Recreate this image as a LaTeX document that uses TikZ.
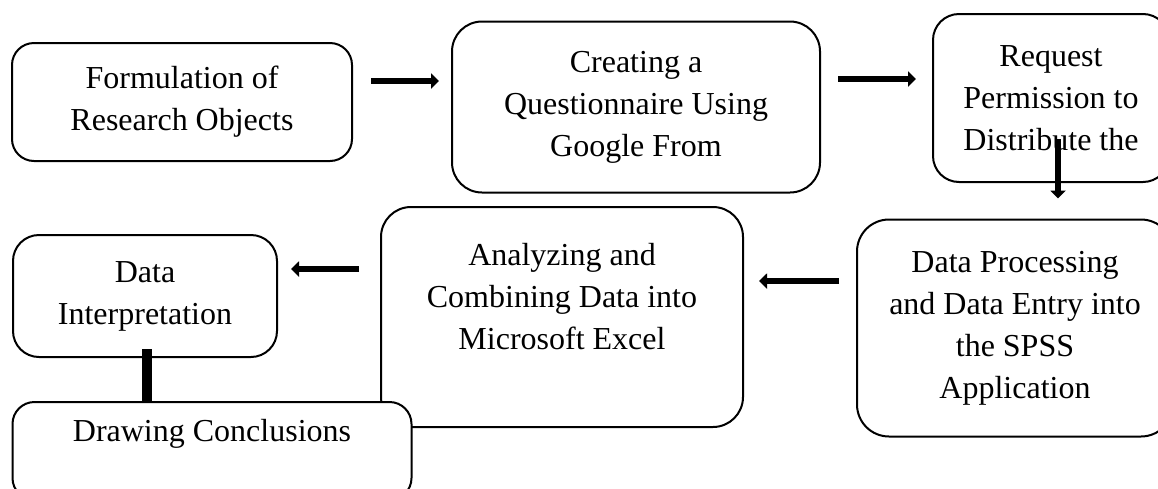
\documentclass[tikz,border=0pt]{standalone}
\usepackage{fontspec}
\setmainfont{Liberation Serif}
\usetikzlibrary{arrows.meta}
\newcommand{\boxfont}{\fontsize{32}{42}\selectfont}

\begin{document}
\begin{tikzpicture}[x=1pt, y=-1pt,
    stage/.style={draw=black, line width=2pt, fill=white, rounded corners=26pt,
                  align=center, inner sep=0pt, font=\boxfont},
    flow/.style={line width=6pt, -{Triangle[length=8pt, width=15pt]}}]

    \useasboundingbox (0,0) rectangle (1158,488);
    \clip (0,0) rectangle (1158,488);

    % first row
    \node[stage, minimum width=340pt, minimum height=118pt, rounded corners=22pt] (formulate) at (182,102)
        {Formulation of\\Research Objects};
    \node[stage, minimum width=368pt, minimum height=171pt, rounded corners=30pt] (questionnaire) at (636,107)
        {Creating a\\Questionnaire Using\\Google From};
    \node[stage, minimum width=236pt, minimum height=168pt] (permission) at (1051,98)
        {Request\\Permission to\\Distribute the};

    % second row
    \node[stage, minimum width=316pt, minimum height=217pt, rounded corners=32pt] (processing) at (1015,328)
        {Data Processing\\and Data Entry into\\the SPSS\\Application};
    \node[stage, minimum width=362pt, minimum height=220pt, rounded corners=30pt] (analyze) at (562,317)
        {Analyzing and\\Combining Data into\\Microsoft Excel\\\mbox{}};
    \node[stage, minimum width=264pt, minimum height=122pt] (interpret) at (145,296)
        {Data\\Interpretation};
    \node[stage, minimum width=399pt, minimum height=98pt, rounded corners=22pt] (conclude) at (212,451)
        {Drawing Conclusions\\\mbox{}};

    % arrows
    \draw[flow, shorten <=18pt, shorten >=12pt] (formulate.east |- 0,81) -- (questionnaire.west |- 0,81);
    \draw[flow, shorten <=17pt, shorten >=16pt] (questionnaire.east |- 0,79) -- (permission.west |- 0,79);
    \draw[flow, shorten <=-44pt, shorten >=20pt] (permission.south -| 1058,0) -- (processing.north -| 1058,0);
    \draw[flow, shorten <=17pt, shorten >=15pt] (processing.west |- 0,281) -- (analyze.east |- 0,281);
    \draw[flow, shorten <=21pt, shorten >=13pt] (analyze.west |- 0,269) -- (interpret.east |- 0,269);
    \draw[line width=10pt, shorten <=-9pt] (interpret.south -| 147,0) -- (conclude.north -| 147,0);

\end{tikzpicture}
\end{document}
